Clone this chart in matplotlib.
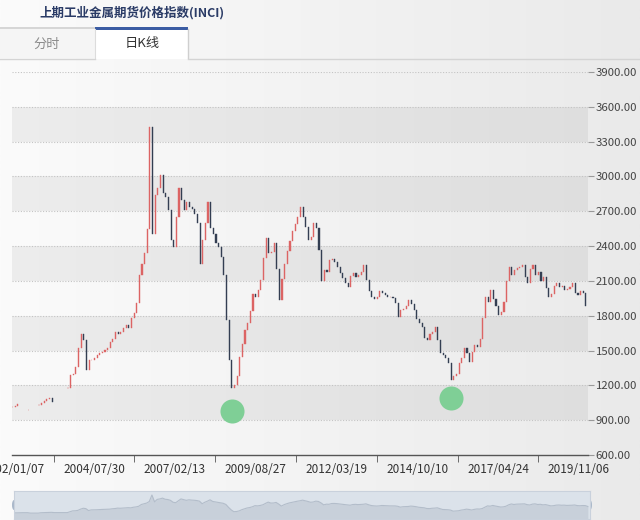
import numpy as np
import pandas as pd
import matplotlib
matplotlib.use('Agg')
import matplotlib.pyplot as plt
from matplotlib.patches import Rectangle, Ellipse
from matplotlib.colors import LinearSegmentedColormap

plt.rcParams['font.family'] = ['Noto Sans CJK SC', 'DejaVu Sans']

nan = float('nan')
# monthly closing level of the index (2002-01 .. 2020-02)
close = [
    1010, 1025, 1040, nan, nan, nan, 985, nan, nan, nan, 1035, 1050,
    1065, 1080, 1090, 1055, nan, nan, nan, nan, nan, 1176, 1288, 1300,
    1357, 1521, 1640, 1590, 1331, 1417, 1420, 1434, 1460, 1477, 1490, 1505,
    1520, 1570, 1600, 1659, 1640, 1660, 1690, 1719, 1693, 1780, 1822, 1909,
    2150, 2250, 2340, 2550, 3430, 2500, 2840, 2900, 3010, 2857, 2820, 2710,
    2450, 2391, 2650, 2900, 2800, 2710, 2780, 2740, 2720, 2680, 2600, 2250,
    2450, 2600, 2780, 2560, 2500, 2426, 2391, 2310, 2150, 1760, 1420, 1180,
    1200, 1280, 1443, 1560, 1676, 1736, 1840, 1990, 1960, 2021, 2110, 2300,
    2470, 2340, 2350, 2426, 2200, 1934, 2120, 2250, 2360, 2440, 2530, 2590,
    2650, 2736, 2650, 2564, 2452, 2480, 2600, 2560, 2366, 2100, 2190, 2175,
    2280, 2290, 2265, 2220, 2170, 2124, 2085, 2050, 2140, 2170, 2133, 2150,
    2180, 2236, 2110, 2010, 1965, 1940, 1960, 2015, 1995, 1975, 1960, 1960,
    1955, 1909, 1790, 1848, 1860, 1880, 1934, 1900, 1850, 1775, 1740, 1705,
    1610, 1590, 1640, 1659, 1700, 1590, 1475, 1460, 1440, 1395, 1250, 1280,
    1300, 1390, 1440, 1520, 1480, 1400, 1490, 1545, 1530, 1600, 1780, 1960,
    1920, 2020, 1940, 1880, 1805, 1830, 1917, 2100, 2220, 2150, 2195, 2215,
    2220, 2236, 2130, 2080, 2200, 2236, 2150, 2176, 2100, 2133, 2040, 1960,
    1990, 2060, 2080, 2047, 2060, 2025, 2030, 2050, 2081, 2000, 1980, 2010,
    2000, 1880,
]
first_month = '2002-01'
xtick_labels = ['2002/01/07', '2004/07/30', '2007/02/13', '2009/08/27',
                '2012/03/19', '2014/10/10', '2017/04/24', '2019/11/06']
ytick_vals = [600, 900, 1200, 1500, 1800, 2100, 2400, 2700, 3000, 3300, 3600, 3900]
highlight_months = ['2008-12', '2015-11']
highlight_vals = [980, 1090]
title = '上期工业金属期货价格指数(INCI)'
tab_labels = ['分时', '日K线']

W, H = 640, 520
fig = plt.figure(figsize=(W / 100, H / 100), dpi=100)

# ---------- page background / header ----------
bg = fig.add_axes([0, 0, 1, 1])
bg.set_xlim(0, W)
bg.set_ylim(H, 0)
bg.axis('off')
cmap = LinearSegmentedColormap.from_list('g', ['#fbfbfb', '#eaeaea'])
bg.imshow(np.linspace(0, 1, 256)[None, :], extent=[0, W, H, 0], aspect='auto',
          cmap=cmap, zorder=0)
bg.add_patch(Rectangle((0, 28), 95, 30, facecolor='#f5f5f5', lw=0, zorder=1))
bg.add_patch(Rectangle((0, 27), 95, 2, facecolor='#d6d6d6', lw=0, zorder=2))
bg.add_patch(Rectangle((95, 27), 93, 31.5, facecolor='white', lw=0, zorder=2))
bg.add_patch(Rectangle((95, 27), 93, 2.5, facecolor='#3b5ca3', lw=0, zorder=3))
bg.plot([95, 95], [29, 58], color='#dcdcdc', lw=0.8, zorder=3)
bg.plot([188, 188], [29, 58], color='#cfcfcf', lw=1.0, zorder=3)
bg.plot([0, 95], [58.5, 58.5], color='#d4d4d4', lw=1.0, zorder=3)
bg.plot([188, W], [58.5, 58.5], color='#d4d4d4', lw=1.0, zorder=3)
bg.text(39, 13, title, ha='left', va='center', fontsize=9, fontweight='bold',
        color='#2a3b66', zorder=4)
bg.text(47, 44, tab_labels[0], ha='center', va='center', fontsize=9.5,
        color='#8c8c8c', zorder=4)
bg.text(142, 44, tab_labels[1], ha='center', va='center', fontsize=9.5,
        color='#333333', zorder=4)

# ---------- main chart ----------
s = pd.Series(close, dtype=float)
months = pd.period_range(first_month, periods=len(s), freq='M')
o = s.shift(1)
o = o.where(o.notna(), s)
x = np.arange(len(s))
valid = s.notna().values
up = (s >= o).values & valid
dn = (s < o).values & valid

ax = fig.add_axes([12 / W, 1 - 455 / H, 576 / W, 383 / H])
ax.patch.set_alpha(0)
ax.set_xlim(-0.2, len(s) - 0.2)
ax.set_ylim(ytick_vals[0], ytick_vals[-1])

for lo in ytick_vals[1:-1:2]:
    ax.axhspan(lo, lo + 300, color='black', alpha=0.055, lw=0, zorder=0)
for v in ytick_vals[1:]:
    ax.axhline(v, color='#c4c4c4', lw=0.8, ls=(0, (1, 1.5)), zorder=1)

ax.bar(x[up], (s - o).values[up], bottom=o.values[up], width=0.42,
       color='#dc6464', edgecolor='#dc6464', lw=0.3, zorder=3)
ax.bar(x[dn], (s - o).values[dn], bottom=o.values[dn], width=0.42,
       color='#333e52', edgecolor='#333e52', lw=0.3, zorder=3)

hx = [(pd.Period(m, freq='M') - months[0]).n for m in highlight_months]
ax.scatter(hx, highlight_vals, s=300, color='#7fcf96', lw=0, zorder=5)

for sp in ['top', 'left', 'right']:
    ax.spines[sp].set_visible(False)
ax.spines['bottom'].set_color('#555555')
ax.spines['bottom'].set_linewidth(1)

ax.yaxis.tick_right()
ax.set_yticks(ytick_vals)
ax.set_yticklabels([f'{v:.2f}' for v in ytick_vals])
ax.tick_params(axis='y', direction='out', length=4, color='#999999',
               labelcolor='#444444', labelsize=8.2, pad=1.5)

base = pd.Timestamp(first_month + '-01')
lab_pos = [(pd.Timestamp(d.replace('/', '-')) - base).days / 30.4375 for d in xtick_labels]
mid_pos = [(a + b) / 2 for a, b in zip(lab_pos[:-1], lab_pos[1:])]
ax.set_xticks(lab_pos)
ax.set_xticklabels(xtick_labels)
ax.set_xticks(mid_pos, minor=True)
ax.tick_params(axis='x', which='major', length=0, labelsize=8.5,
               labelcolor='#333333', pad=6)
ax.tick_params(axis='x', which='minor', length=5, color='#555555')

# ---------- data-zoom slider ----------
sl = fig.add_axes([14 / W, 1 - 519 / H, 576 / W, 28 / H])
sl.set_facecolor('#dbe2ea')
mini = s.ffill()
sl.fill_between(x, 0, mini.values, color='#c8d0da', lw=0)
sl.plot(x, mini.values, color='#b3bdca', lw=0.8)
sl.set_xlim(-0.2, len(s) - 0.2)
sl.set_ylim(190, 3970)
sl.set_xticks([])
sl.set_yticks([])
for sp in sl.spines.values():
    sp.set_color('#c9d1dc')
    sp.set_linewidth(0.8)
bg.add_patch(Ellipse((14, 505), 4, 10, facecolor='#a9b7ca', lw=0, zorder=6))
bg.add_patch(Ellipse((590, 505), 4, 10, facecolor='#a9b7ca', lw=0, zorder=6))

fig.savefig('out.png', dpi=100)
